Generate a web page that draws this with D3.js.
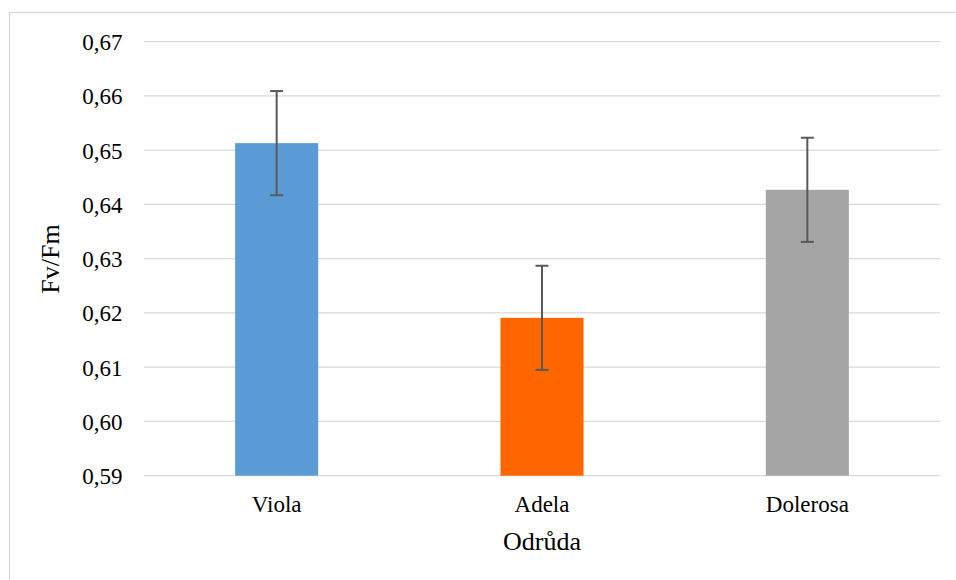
<!DOCTYPE html>
<html>
<head>
<meta charset="utf-8">
<script src="https://cdn.jsdelivr.net/npm/d3@7"></script>
<style>
  html, body { margin: 0; padding: 0; background: #fff; }
  svg { display: block; }
</style>
</head>
<body>
<div id="chart"></div>
<script>
const categories = ["Viola", "Adela", "Dolerosa"];
const values = [0.6513, 0.6191, 0.6427];
const errors = [0.0096, 0.0096, 0.0096];
const colors = ["#5b9bd5", "#ff6600", "#a5a5a5"];
const yTicks = [0.59, 0.60, 0.61, 0.62, 0.63, 0.64, 0.65, 0.66, 0.67];
const yTitle = "Fv/Fm";
const xTitle = "Odrůda";

(function () {
const W = 956, H = 580;
const FONT = "'Times New Roman', 'Liberation Serif', Tinos, 'DejaVu Serif', serif";
const svg = d3.select("#chart").append("svg").attr("width", W).attr("height", H);

// outer frame
svg.append("rect")
  .attr("x", 9.5).attr("y", 12.5)
  .attr("width", 1000).attr("height", 1000)
  .attr("fill", "none").attr("stroke", "#d9d9d9").attr("stroke-width", 1.3);

const pLeft = 144, pRight = 940, pTop = 41.7, pBottom = 475.7;

const y = d3.scaleLinear().domain([0.59, 0.67]).range([pBottom, pTop]);
const x = d3.scaleBand().domain(categories).range([pLeft, pRight])
  .paddingInner(0.687).paddingOuter(0.3435);

const fmt = d => d.toFixed(2).replace(".", ",");

// gridlines
svg.append("g").selectAll("line").data(yTicks).join("line")
  .attr("x1", pLeft).attr("x2", pRight)
  .attr("y1", d => y(d)).attr("y2", d => y(d))
  .attr("stroke", "#d9d9d9").attr("stroke-width", 1.3);

// y axis labels
const yAxis = d3.axisLeft(y).tickValues(yTicks).tickFormat(fmt).tickSize(0).tickPadding(0);
const gy = svg.append("g").attr("transform", `translate(122.5,0)`).call(yAxis);
gy.attr("font-family", null).attr("font-size", null);
gy.select(".domain").remove();
gy.selectAll("text")
  .style("font-family", FONT).style("font-size", "23px").attr("fill", "#000")
  .attr("dy", "0.34em");

// bars
svg.append("g").selectAll("rect").data(categories).join("rect")
  .attr("x", d => x(d))
  .attr("width", x.bandwidth())
  .attr("y", (d, i) => y(values[i]))
  .attr("height", (d, i) => y(0.59) - y(values[i]))
  .attr("fill", (d, i) => colors[i]);

// error bars
const eb = svg.append("g").attr("stroke", "#595959").attr("stroke-width", 2);
categories.forEach((c, i) => {
  const cx = x(c) + x.bandwidth() / 2;
  const yt = y(values[i] + errors[i]);
  const yb = y(values[i] - errors[i]);
  eb.append("line").attr("x1", cx).attr("x2", cx).attr("y1", yt).attr("y2", yb);
  eb.append("line").attr("x1", cx - 6.5).attr("x2", cx + 6.5).attr("y1", yt).attr("y2", yt);
  eb.append("line").attr("x1", cx - 6.5).attr("x2", cx + 6.5).attr("y1", yb).attr("y2", yb);
});

// x axis labels
const xAxis = d3.axisBottom(x).tickSize(0).tickPadding(0);
const gx = svg.append("g").attr("transform", `translate(0,${pBottom})`).call(xAxis);
gx.attr("font-family", null).attr("font-size", null);
gx.select(".domain").remove();
gx.selectAll("text")
  .style("font-family", FONT).style("font-size", "23px").attr("fill", "#000")
  .attr("dy", null).attr("y", 36);

// axis titles
svg.append("text")
  .attr("x", (pLeft + pRight) / 2).attr("y", 549.5)
  .attr("text-anchor", "middle")
  .style("font-family", FONT).style("font-size", "26px")
  .text(xTitle);

svg.append("text")
  .attr("transform", `translate(59,259) rotate(-90)`)
  .attr("text-anchor", "middle")
  .style("font-family", FONT).style("font-size", "26px")
  .text(yTitle);
})();
</script>
</body>
</html>
